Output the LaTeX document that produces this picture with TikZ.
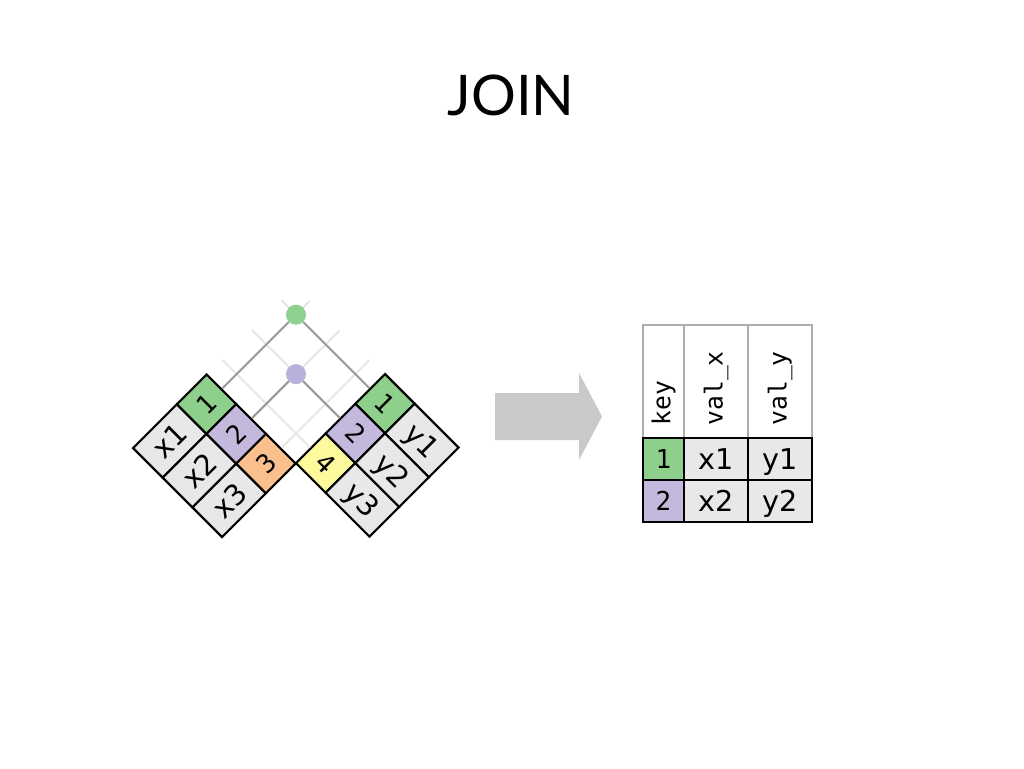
\documentclass[tikz,border=0pt]{standalone}
\usepackage{fontspec}
\setmainfont{DejaVu Sans}
\setmonofont{DejaVu Sans Mono}
\newfontfamily\titlefont{Lato}
\usetikzlibrary{positioning}
\definecolor{keygreen}{HTML}{8ED08B}
\definecolor{keypurple}{HTML}{C4B9DD}
\definecolor{keyorange}{HTML}{F9BF8C}
\definecolor{keyyellow}{HTML}{FCFA9C}
\definecolor{cellgrey}{HTML}{E8E8E8}
\definecolor{linkgrey}{HTML}{9A9A9A}
\definecolor{faintgrey}{HTML}{E6E6E6}
\definecolor{hdrgrey}{HTML}{ADADAD}
\definecolor{arrowgrey}{HTML}{C9C9C9}
\definecolor{dotgreen}{HTML}{8FD18F}
\definecolor{dotpurple}{HTML}{B9B1D9}

\begin{document}
\begin{tikzpicture}[x=0.75pt, y=0.75pt,
    cell/.style={draw=black, line width=1.6pt, inner sep=0pt, minimum height=31.5pt, fill=cellgrey},
    keycell/.style={cell, minimum width=31.5pt, text height=14pt, text depth=0pt, font=\ttfamily\fontsize{19.5}{19.5}\selectfont},
    valcell/.style={cell, minimum width=46.5pt, text height=15.5pt, text depth=0pt, font=\fontsize{21.5}{21.5}\selectfont},
    hdrcell/.style={draw=hdrgrey, line width=1pt, inner sep=0pt, minimum height=84.75pt},
    hdrtext/.style={rotate=90, anchor=west, inner sep=0pt, font=\ttfamily\fontsize{18.5}{18.5}\selectfont},
    link/.style={draw=linkgrey, line width=1.5pt},
    faint/.style={draw=faintgrey, line width=1.5pt},
    dot/.style={circle, inner sep=0pt, minimum size=15pt}]
    \useasboundingbox (0,0) rectangle (1024,-768);
    \node[anchor=base, font=\titlefont\fontsize{42}{42}\selectfont] (title) at (511,-115) {JOIN};
    \begin{scope}[shift={(133,-448)}, rotate=45, transform shape]
        \node[valcell] (x1) at (31,-21) {x1};
        \node[valcell] (x2) at (31,-63) {x2};
        \node[valcell] (x3) at (31,-105) {x3};
        \node[keycell, fill=keygreen] (xk1) at (83,-21) {1};
        \node[keycell, fill=keypurple] (xk2) at (83,-63) {2};
        \node[keycell, fill=keyorange] (xk3) at (83,-105) {3};
        \coordinate (xe1) at (229,-21);
        \coordinate (xe2) at (229,-63);
        \coordinate (xe3) at (229,-105);
    \end{scope}
    \begin{scope}[shift={(385,-374)}, rotate=-45, transform shape]
        \node[keycell, fill=keygreen] (yk1) at (21,-21) {1};
        \node[keycell, fill=keypurple] (yk2) at (21,-63) {2};
        \node[keycell, fill=keyyellow] (yk4) at (21,-105) {4};
        \node[valcell] (y1) at (73,-21) {y1};
        \node[valcell] (y2) at (73,-63) {y2};
        \node[valcell] (y3) at (73,-105) {y3};
        \coordinate (ye1) at (-125,-21);
        \coordinate (ye2) at (-125,-63);
        \coordinate (ye4) at (-125,-105);
    \end{scope}
    \draw[faint] (xk1.east) -- (xe1);
    \draw[faint] (xk2.east) -- (xe2);
    \draw[faint] (xk3.east) -- (xe3);
    \draw[faint] (yk1.west) -- (ye1);
    \draw[faint] (yk2.west) -- (ye2);
    \draw[faint] (yk4.west) -- (ye4);
    \node[dot, fill=dotgreen] (m1) at (296,-314.7) {};
    \node[dot, fill=dotpurple] (m2) at (296,-374.1) {};
    \draw[link] (xk1.east) -- (m1);
    \draw[link] (yk1.west) -- (m1);
    \draw[link] (xk2.east) -- (m2);
    \draw[link] (yk2.west) -- (m2);
    \fill[arrowgrey] (495,-393) -- (579,-393) -- (579,-373) -- (602,-416.5) -- (579,-460) -- (579,-440) -- (495,-440) -- cycle;
    \node[hdrcell, minimum width=30.75pt] (hkey) at (663.5,-381.5) {};
    \node[hdrcell, minimum width=48pt] (hvx) at (716,-381.5) {};
    \node[hdrcell, minimum width=48pt] (hvy) at (780,-381.5) {};
    \node[hdrtext] (tkey) at ([yshift=9.75pt]hkey.south) {key};
    \node[hdrtext] (tvx) at ([yshift=9.75pt]hvx.south) {val\_x};
    \node[hdrtext] (tvy) at ([yshift=9.75pt]hvy.south) {val\_y};
    \node[keycell, minimum width=30.75pt, fill=keygreen] (rk1) at (663.5,-459) {1};
    \node[keycell, minimum width=30.75pt, fill=keypurple] (rk2) at (663.5,-501) {2};
    \node[valcell, minimum width=48pt] (rx1) at (716,-459) {x1};
    \node[valcell, minimum width=48pt] (rx2) at (716,-501) {x2};
    \node[valcell, minimum width=48pt] (ry1) at (780,-459) {y1};
    \node[valcell, minimum width=48pt] (ry2) at (780,-501) {y2};
\end{tikzpicture}
\end{document}
